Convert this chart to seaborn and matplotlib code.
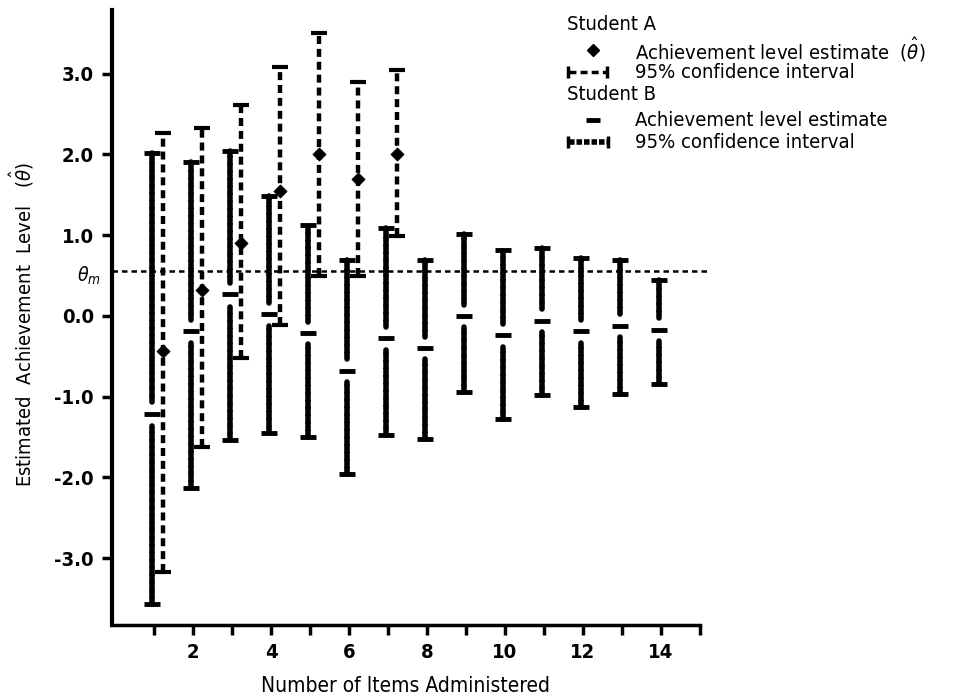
import matplotlib
matplotlib.use("Agg")
import matplotlib.pyplot as plt
from matplotlib.lines import Line2D
import seaborn as sns
import numpy as np
import pandas as pd

# ---- data ----
items_a = [1, 2, 3, 4, 5, 6, 7]
a_est = [-0.44, 0.32, 0.90, 1.55, 2.00, 1.69, 2.00]
a_low = [-3.17, -1.62, -0.52, -0.11, 0.49, 0.50, 0.99]
a_high = [2.27, 2.33, 2.61, 3.08, 3.50, 2.90, 3.05]

items_b = [1, 2, 3, 4, 5, 6, 7, 8, 9, 10, 11, 12, 13, 14]
b_est = [-1.21, -0.19, 0.27, 0.02, -0.21, -0.68, -0.28, -0.40, 0.00, -0.24, -0.06, -0.19, -0.12, -0.17]
b_low = [-3.57, -2.13, -1.54, -1.45, -1.50, -1.96, -1.47, -1.52, -0.94, -1.28, -0.98, -1.13, -0.97, -0.84]
b_high = [2.02, 1.91, 2.04, 1.48, 1.12, 0.69, 1.09, 0.69, 1.02, 0.82, 0.84, 0.72, 0.69, 0.45]

theta_m = 0.56
x_ticks = list(range(1, 16))
x_labels = ["" if t % 2 else str(t) for t in x_ticks]
y_ticks = [-3, -2, -1, 0, 1, 2, 3]
y_labels = ["-3.0", "-2.0", "-1.0", "0.0", "1.0", "2.0", "3.0"]

sns.set_style("ticks")
plt.rcParams["font.family"] = ["DejaVu Sans"]
plt.rcParams["font.stretch"] = "condensed"
plt.rcParams["mathtext.fontset"] = "dejavusans"
for k in ["text.color", "axes.labelcolor", "axes.edgecolor", "xtick.color", "ytick.color"]:
    plt.rcParams[k] = "black"

fig = plt.figure(figsize=(9.7, 6.97), dpi=100)
ax = fig.add_axes([112 / 970, 1 - 625 / 697, (700 - 112) / 970, (625 - 10) / 697])

off_a, off_b = 0.23, -0.05
df_a = pd.DataFrame({"item": np.array(items_a) + off_a, "est": a_est, "low": a_low, "high": a_high})
df_b = pd.DataFrame({"item": np.array(items_b) + off_b, "est": b_est, "low": b_low, "high": b_high})

# reference line theta_m
ax.hlines(theta_m, -0.08, 15.2, colors="black", linestyles=(0, (2.2, 1.6)), linewidth=1.8,
          clip_on=False, zorder=1)

# Student B intervals: heavy beaded line, broken around the estimate
gap = 0.14
lc1 = ax.vlines(df_b["item"], df_b["low"], df_b["est"] - gap, colors="black",
                linewidth=4.0, linestyles=(0, (1.0, 0.35)), zorder=3)
lc2 = ax.vlines(df_b["item"], df_b["est"] + gap, df_b["high"], colors="black",
                linewidth=4.0, linestyles=(0, (1.0, 0.35)), zorder=3)
for lc in (lc1, lc2):
    lc.set_capstyle("round")
ax.plot(df_b["item"], df_b["low"], ls="none", marker="_", ms=12, mew=3.5, color="black", zorder=3)
ax.plot(df_b["item"], df_b["high"], ls="none", marker="_", ms=12, mew=3.5, color="black", zorder=3)

# Student A intervals: dashed line
ax.vlines(df_a["item"], df_a["low"], df_a["high"], colors="black",
          linewidth=3.2, linestyles=(0, (1.8, 1.1)), zorder=3)
ax.plot(df_a["item"], df_a["low"], ls="none", marker="_", ms=11, mew=3, color="black", zorder=3)
ax.plot(df_a["item"], df_a["high"], ls="none", marker="_", ms=11, mew=3, color="black", zorder=3)

# estimates
sns.scatterplot(data=df_a, x="item", y="est", marker="D", s=45, color="black",
                edgecolor="black", ax=ax, zorder=4, legend=False)
ax.plot(df_b["item"], df_b["est"], ls="none", marker="_", ms=11, mew=3.5, color="black", zorder=4)

ax.set_xlim(-0.08, 15.0)
ax.set_ylim(-3.83, 3.79)
ax.set_xticks(x_ticks)
ax.set_xticklabels(x_labels, fontsize=14.5, fontweight="bold")
ax.set_yticks(y_ticks)
ax.set_yticklabels(y_labels, fontsize=14.5, fontweight="bold")
ax.tick_params(axis="both", direction="out", length=7, width=2.5, color="black", pad=6)
sns.despine(ax=ax)
ax.spines["left"].set_linewidth(3)
ax.spines["bottom"].set_linewidth(2.5)

ax.set_xlabel("Number of Items Administered", fontsize=15, labelpad=10)
ax.set_ylabel(r"Estimated  Achievement  Level   ($\hat{\theta}$)", fontsize=14.5)
ax.yaxis.set_label_coords(-(112 - 36) / 588, 1 - (325 - 10) / 615)

ax.annotate(r"$\theta_m$", xy=(0, theta_m), xycoords=("axes fraction", "data"),
            xytext=(-8, -4), textcoords="offset points", ha="right", va="center", fontsize=14)

# legend drawn manually in figure pixel coordinates
def fx(px):
    return px / 970

def fy(py):
    return 1 - py / 697

fs = 14.5
tx = 635
fig.text(fx(567), fy(24), "Student A", fontsize=fs, va="center", ha="left")
fig.add_artist(Line2D([fx(593)], [fy(50)], marker="D", ms=6, color="black", ls="none"))
fig.text(fx(tx), fy(50), r"Achievement level estimate  ($\hat{\theta}$)", fontsize=fs, va="center")
fig.add_artist(Line2D([fx(569), fx(606)], [fy(72), fy(72)], color="black", lw=2.5,
                      ls=(0, (2.0, 1.2))))
fig.add_artist(Line2D([fx(568)], [fy(72)], marker="|", ms=9, mew=2.5, color="black"))
fig.add_artist(Line2D([fx(607)], [fy(72)], marker="|", ms=9, mew=2.5, color="black"))
fig.text(fx(tx), fy(72), "95% confidence interval", fontsize=fs, va="center")
fig.text(fx(567), fy(95), "Student B", fontsize=fs, va="center", ha="left")
fig.add_artist(Line2D([fx(593)], [fy(120)], marker="_", ms=10, mew=3.5, color="black", ls="none"))
fig.text(fx(tx), fy(120), "Achievement level estimate", fontsize=fs, va="center")
fig.add_artist(Line2D([fx(569), fx(607)], [fy(142), fy(142)], color="black", lw=4,
                      ls=(0, (1.0, 0.35))))
fig.add_artist(Line2D([fx(568)], [fy(142)], marker="|", ms=9, mew=2.5, color="black"))
fig.add_artist(Line2D([fx(608)], [fy(142)], marker="|", ms=9, mew=2.5, color="black"))
fig.text(fx(tx), fy(142), "95% confidence interval", fontsize=fs, va="center")

fig.savefig("out.png", dpi=100)
